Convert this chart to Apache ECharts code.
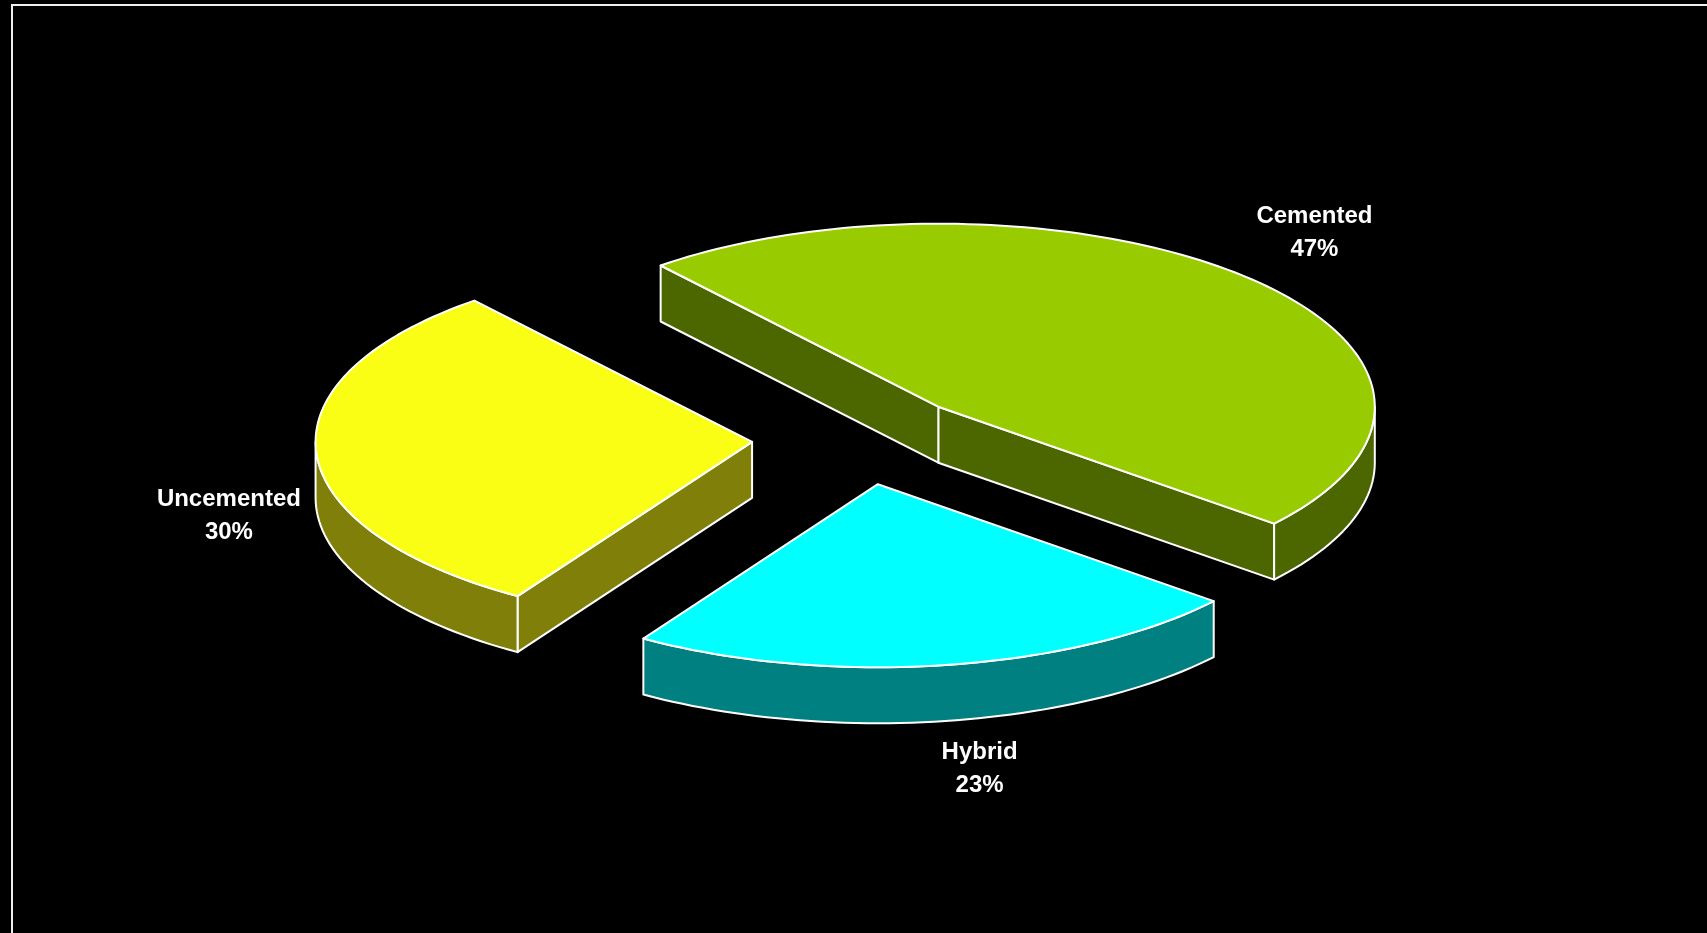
<!DOCTYPE html>
<html>
<head>
<meta charset="utf-8">
<script src="https://cdn.jsdelivr.net/npm/echarts@6/dist/echarts.min.js"></script>
<style>
html,body{margin:0;padding:0;background:#000;}
#main{width:1707px;height:933px;}
</style>
</head>
<body>
<div id="main"></div>
<script>
// ---- data ----
const categories = ['Cemented', 'Hybrid', 'Uncemented'];
const values = [47, 23, 30];

// ---- styles ----
const topColors = ['#99CC00', '#00FFFF', '#FAFD14'];
const sideColors = ['#4C6600', '#008080', '#7F7F0A'];

// ---- layout of the 3D pie (projection) ----
const layout = {
  cx: 861, cy: 439,        // pie centre (top face)
  rx: 436.5, ry: 183,      // projected ellipse radii
  depth: 56,               // thickness
  explode: 0.25,           // explode fraction of radius
  startAngle: 129.5,       // degrees (math, ccw from +x), slices go clockwise
  labelKx: 1.21, labelKy: 1.30
};
// small label nudges (px) per slice, in category order
const labelNudge = [[2, -6], [20, -6], [4, 4]];

const total = values.reduce((a, b) => a + b, 0);
const slices = [];
(function () {
  let a = layout.startAngle;
  values.forEach((v, i) => {
    const span = v / total * 360;
    const a2 = a, a1 = a - span;
    const mid = (a1 + a2) / 2 * Math.PI / 180;
    const ox = layout.cx + layout.explode * layout.rx * Math.cos(mid);
    const oy = layout.cy - layout.explode * layout.ry * Math.sin(mid);
    slices.push({ i, a1, a2, mid, ox, oy });
    a = a1;
  });
})();

function pt(s, deg, dy) {
  const t = deg * Math.PI / 180;
  return [s.ox + layout.rx * Math.cos(t), s.oy - layout.ry * Math.sin(t) + (dy || 0)];
}
function arc(s, b1, b2, dy) {
  const n = Math.max(2, Math.ceil(Math.abs(b2 - b1) / 1.5));
  const out = [];
  for (let k = 0; k <= n; k++) out.push(pt(s, b1 + (b2 - b1) * k / n, dy));
  return out;
}
const stroke = { stroke: '#FFFFFF', lineWidth: 2, lineJoin: 'round' };

function sideElements(s) {
  const els = [];
  const D = layout.depth;
  const fill = sideColors[s.i];
  const cos1 = Math.cos(s.a1 * Math.PI / 180), cos2 = Math.cos(s.a2 * Math.PI / 180);
  const face = (a) => {
    const p = pt(s, a), q = pt(s, a, D);
    return { type: 'polygon', shape: { points: [[s.ox, s.oy], p, q, [s.ox, s.oy + D]] },
      style: Object.assign({ fill }, stroke) };
  };
  if (cos1 > 0) els.push(face(s.a1));
  if (cos2 < 0) els.push(face(s.a2));
  // outer wall: front half where sin < 0
  for (let k = -2; k <= 1; k++) {
    const f1 = -180 + k * 360, f2 = 0 + k * 360;
    const b1 = Math.max(s.a1, f1), b2 = Math.min(s.a2, f2);
    if (b2 > b1) {
      const top = arc(s, b1, b2, 0);
      const bot = arc(s, b2, b1, D);
      els.push({ type: 'polygon', shape: { points: top.concat(bot) },
        style: Object.assign({ fill }, stroke) });
    }
  }
  return els;
}

function topElements(s) {
  const pts = [[s.ox, s.oy]].concat(arc(s, s.a1, s.a2, 0));
  const els = [{ type: 'polygon', shape: { points: pts },
    style: Object.assign({ fill: topColors[s.i] }, stroke) }];
  const sm = Math.sin(s.mid);
  const lx = s.ox + layout.labelKx * layout.rx * Math.cos(s.mid) + labelNudge[s.i][0];
  const ly = s.oy - layout.labelKy * layout.ry * sm + (sm < 0 ? layout.depth : 0) + labelNudge[s.i][1];
  els.push({ type: 'text', x: lx, y: ly, z2: 10,
    style: { text: categories[s.i] + '\n' + Math.round(values[s.i] / total * 100) + '%',
      fill: '#FFFFFF', font: 'bold 24px "Liberation Sans", Arial, sans-serif',
      lineHeight: 33, align: 'center', verticalAlign: 'middle' } });
  return els;
}

const chart = echarts.init(document.getElementById('main'), null, { renderer: 'canvas' });
chart.setOption({
  backgroundColor: '#000000',
  animation: false,
  graphic: [{
    type: 'rect', z: 0,
    shape: { x: 12, y: 5, width: 1720, height: 980 },
    style: { fill: 'none', stroke: '#EEEEEE', lineWidth: 2 }
  }],
  series: [
    {
      type: 'custom', name: 'sides', coordinateSystem: 'none', z: 2,
      data: categories.map((c, i) => ({ name: c, value: values[i] })),
      renderItem: (params) => ({ type: 'group', children: sideElements(slices[params.dataIndex]) })
    },
    {
      type: 'custom', name: 'tops', coordinateSystem: 'none', z: 3,
      data: categories.map((c, i) => ({ name: c, value: values[i] })),
      renderItem: (params) => ({ type: 'group', children: topElements(slices[params.dataIndex]) })
    }
  ]
});
</script>
</body>
</html>
